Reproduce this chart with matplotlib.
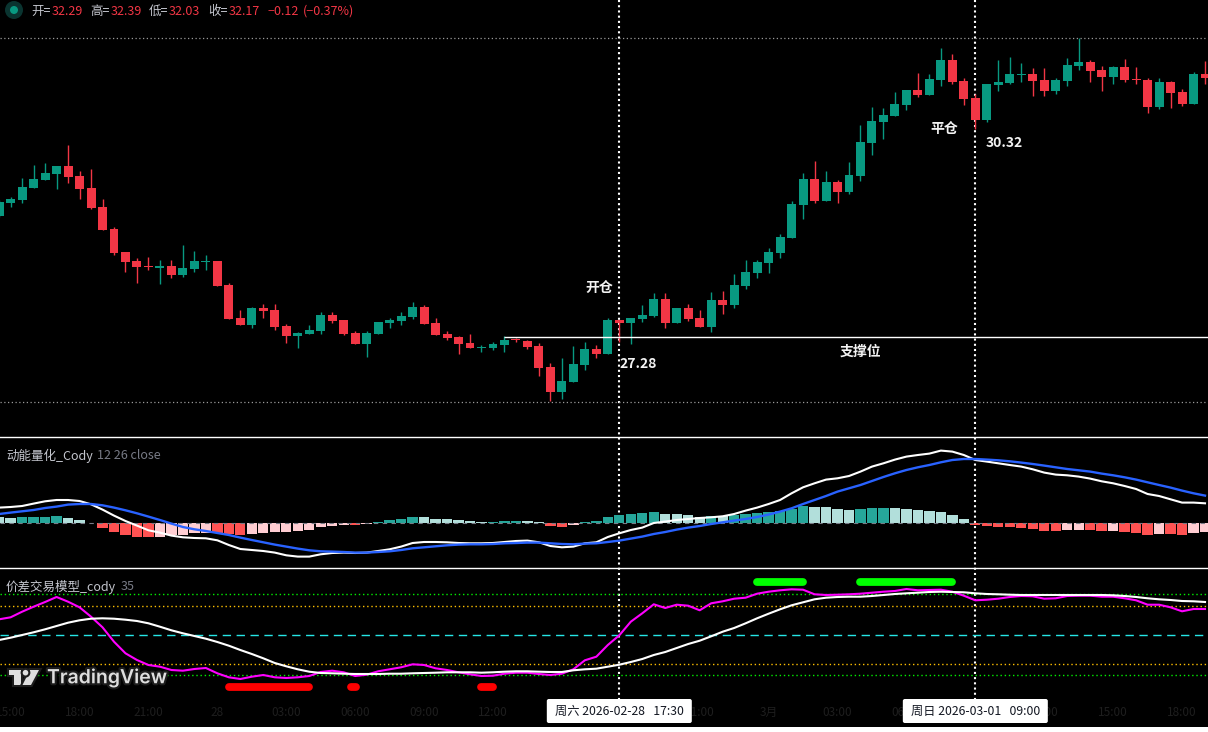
"""Candlestick chart with two indicator panes, dark TradingView look"""

import matplotlib
matplotlib.use("Agg")
import matplotlib.pyplot as plt
import matplotlib.patheffects as pe
from matplotlib.patches import Circle, FancyBboxPatch, Polygon, Rectangle
from matplotlib.transforms import blended_transform_factory
import numpy as np

plt.rcParams['font.family'] = ['Noto Sans CJK SC', 'DejaVu Sans']

# 30 minute candles, left to right
opens = [28.981, 29.163, 29.205, 29.373, 29.485, 29.569, 29.681, 29.541, 29.373, 29.107,
         28.799, 28.477, 28.351, 28.281, 28.253, 28.281, 28.155, 28.239, 28.337, 28.351,
         28.015, 27.553, 27.455, 27.693, 27.665, 27.441, 27.301, 27.329, 27.371, 27.595,
         27.525, 27.343, 27.189, 27.329, 27.483, 27.511, 27.567, 27.707, 27.483, 27.329,
         27.287, 27.203, 27.133, 27.133, 27.175, 27.250, 27.231, 27.161, 26.867, 26.517,
         26.657, 26.895, 27.119, 27.049, 27.525, 27.483, 27.539, 27.581, 27.819, 27.483,
         27.693, 27.553, 27.427, 27.805, 27.735, 27.999, 28.183, 28.323, 28.463, 28.673,
         29.135, 29.499, 29.191, 29.457, 29.317, 29.541, 30.003, 30.297, 30.381, 30.535,
         30.745, 30.675, 30.885, 31.165, 30.871, 30.633, 30.325, 30.815, 30.843, 30.955,
         30.969, 30.885, 30.731, 30.871, 31.081, 31.137, 31.025, 30.927, 31.067, 30.899,
         30.885, 30.507, 30.857, 30.717, 30.549, 30.969]
highs = [29.205, 29.247, 29.513, 29.695, 29.723, 29.681, 29.975, 29.611, 29.639, 29.219,
         28.827, 28.477, 28.393, 28.407, 28.365, 28.365, 28.575, 28.491, 28.435, 28.351,
         28.043, 27.665, 27.707, 27.749, 27.749, 27.469, 27.357, 27.455, 27.637, 27.637,
         27.525, 27.371, 27.371, 27.497, 27.553, 27.637, 27.777, 27.735, 27.553, 27.371,
         27.301, 27.329, 27.175, 27.217, 27.301, 27.273, 27.245, 27.203, 26.923, 26.993,
         27.161, 27.217, 27.175, 27.553, 27.525, 27.553, 27.735, 27.903, 27.903, 27.693,
         27.749, 27.665, 27.917, 27.931, 28.169, 28.365, 28.365, 28.533, 28.729, 29.191,
         29.583, 29.751, 29.611, 29.485, 29.737, 30.255, 30.507, 30.493, 30.717, 30.745,
         30.983, 30.969, 31.333, 31.249, 30.913, 30.689, 30.829, 31.165, 31.207, 31.123,
         31.053, 31.053, 30.913, 31.193, 31.473, 31.165, 31.081, 31.081, 31.179, 31.067,
         30.913, 30.913, 30.871, 30.759, 30.997, 31.151]
lows = [28.967, 29.107, 29.163, 29.373, 29.485, 29.359, 29.443, 29.219, 29.079, 28.785,
        28.435, 28.197, 28.043, 28.225, 28.029, 28.113, 28.127, 28.197, 28.225, 27.999,
        27.539, 27.455, 27.413, 27.553, 27.385, 27.203, 27.133, 27.329, 27.329, 27.483,
        27.315, 27.189, 27.007, 27.329, 27.413, 27.455, 27.539, 27.469, 27.315, 27.245,
        27.049, 27.133, 27.077, 27.105, 27.077, 27.217, 27.119, 26.741, 26.391, 26.419,
        26.657, 26.825, 26.993, 27.049, 27.217, 27.189, 27.497, 27.567, 27.413, 27.483,
        27.511, 27.427, 27.357, 27.609, 27.693, 27.959, 28.113, 28.183, 28.393, 28.673,
        28.939, 29.163, 29.191, 29.163, 29.289, 29.471, 29.835, 30.059, 30.381, 30.465,
        30.647, 30.675, 30.801, 30.829, 30.535, 30.199, 30.297, 30.731, 30.829, 30.857,
        30.661, 30.661, 30.689, 30.801, 31.025, 30.857, 30.731, 30.829, 30.857, 30.829,
        30.423, 30.479, 30.493, 30.521, 30.549, 30.829]
closes = [29.177, 29.219, 29.387, 29.499, 29.583, 29.681, 29.527, 29.359, 29.093, 28.785,
          28.463, 28.337, 28.267, 28.267, 28.281, 28.155, 28.253, 28.351, 28.351, 27.999,
          27.539, 27.455, 27.693, 27.651, 27.427, 27.301, 27.343, 27.385, 27.595, 27.511,
          27.329, 27.189, 27.343, 27.497, 27.525, 27.581, 27.707, 27.469, 27.315, 27.273,
          27.189, 27.133, 27.147, 27.189, 27.245, 27.240, 27.147, 26.853, 26.517, 26.671,
          26.909, 27.119, 27.049, 27.525, 27.483, 27.553, 27.595, 27.819, 27.483, 27.693,
          27.539, 27.427, 27.805, 27.735, 28.015, 28.197, 28.337, 28.477, 28.687, 29.149,
          29.499, 29.191, 29.457, 29.317, 29.555, 30.017, 30.311, 30.395, 30.549, 30.745,
          30.675, 30.899, 31.165, 30.857, 30.619, 30.325, 30.829, 30.857, 30.969, 30.969,
          30.871, 30.731, 30.885, 31.095, 31.137, 31.011, 30.927, 31.067, 30.885, 30.885,
          30.507, 30.857, 30.703, 30.549, 30.969, 30.913]

# momentum pane
macd_fast = [15.7, 16.3, 17.3, 19.7, 22.0, 23.3, 23.3, 22.3, 19.0, 13.7,
             7.7, 2.3, -2.3, -7.0, -9.3, -12.3, -14.0, -14.7, -15.0, -17.0,
             -21.7, -25.7, -26.7, -27.7, -29.3, -32.0, -33.3, -33.3, -31.0, -29.7,
             -29.3, -29.7, -29.3, -27.7, -26.0, -23.3, -19.7, -18.7, -18.7, -19.0,
             -19.7, -20.0, -20.0, -19.7, -18.7, -17.7, -17.3, -19.0, -22.7, -24.0,
             -23.3, -20.0, -19.0, -13.7, -10.0, -6.7, -4.3, 0.3, 1.7, 3.3,
             4.3, 5.3, 6.0, 7.0, 9.3, 12.7, 15.7, 19.3, 23.3, 30.0,
             36.0, 40.0, 43.7, 45.0, 47.3, 51.7, 56.7, 60.0, 63.7, 66.7,
             68.3, 69.7, 72.7, 71.7, 68.3, 63.3, 61.7, 60.0, 58.3, 56.7,
             54.0, 50.7, 48.7, 48.0, 46.7, 44.7, 42.0, 40.0, 37.3, 34.3,
             29.3, 27.3, 24.0, 20.7, 20.7, 20.0]
macd_slow = [9.3, 10.7, 12.0, 13.3, 15.3, 16.7, 18.7, 19.3, 19.3, 18.0,
             15.7, 13.0, 10.0, 6.7, 3.3, -0.3, -3.7, -6.0, -7.7, -9.7,
             -11.7, -14.3, -16.7, -19.0, -21.3, -23.3, -25.3, -27.0, -28.0, -28.3,
             -28.7, -29.3, -29.3, -28.7, -28.0, -26.7, -25.0, -24.0, -23.0, -22.0,
             -21.3, -21.0, -21.0, -20.7, -20.0, -19.7, -19.3, -19.3, -20.0, -20.7,
             -21.0, -20.3, -20.0, -18.7, -17.3, -15.3, -13.3, -10.7, -8.7, -6.3,
             -4.3, -2.7, -0.7, 1.0, 2.7, 4.3, 6.3, 8.7, 11.7, 15.0,
             19.3, 23.3, 27.3, 31.7, 35.0, 38.3, 42.3, 46.3, 50.0, 53.3,
             56.0, 58.3, 61.0, 63.3, 64.3, 64.3, 63.7, 63.0, 62.0, 60.7,
             59.3, 57.7, 56.0, 54.3, 53.0, 51.7, 49.7, 48.0, 46.0, 43.7,
             41.0, 38.3, 35.7, 32.7, 30.0, 27.7]
macd_hist = [6.0, 5.3, 6.3, 6.3, 6.3, 7.3, 5.3, 3.3, 0.5, -4.7,
             -8.7, -11.7, -13.7, -13.7, -13.7, -11.7, -11.7, -9.7, -9.7, -9.7,
             -11.0, -11.7, -10.7, -9.7, -8.7, -8.7, -7.7, -6.7, -3.7, -2.7,
             -1.7, -1.7, -0.7, 1.3, 3.3, 4.3, 6.3, 6.3, 4.3, 4.3,
             3.3, 2.3, 1.3, 1.3, 2.3, 2.3, 2.3, 1.3, -2.7, -3.7,
             -1.7, 1.3, 2.3, 6.3, 8.3, 9.3, 10.3, 11.3, 9.3, 9.3,
             8.3, 6.3, 7.3, 7.3, 8.3, 9.3, 10.3, 11.3, 12.3, 14.3,
             17.3, 16.3, 16.3, 14.3, 13.3, 14.3, 15.3, 15.3, 15.3, 14.3,
             13.3, 12.3, 11.3, 8.3, 4.3, -1.7, -2.7, -3.7, -3.7, -4.7,
             -5.7, -7.7, -7.7, -6.7, -6.7, -6.7, -7.7, -7.7, -8.7, -9.7,
             -11.7, -10.7, -10.7, -11.7, -9.7, -8.7]
# T rising above zero, L falling above zero, R falling below zero, P rising below zero
hist_state = ("LLTTTTLLTR" "RRRRPPPPPR" "RRPPPPPPPP" "PRPTTTTLLL"
              "LLLTTTLLRR" "PTTTTTTTLL" "LLTLTTTTTT" "TLLLLTTTLL"
              "LLLLLRRRRR" "RRRPPRRPRR" "RPRRPP")

# spread model pane
spread_raw = [66.0, 68.0, 73.6, 78.6, 83.3, 88.3, 83.6, 78.0, 68.6, 58.0,
              43.6, 32.0, 25.3, 20.3, 18.6, 15.3, 14.6, 16.3, 17.3, 12.0,
              8.0, 6.3, 8.6, 10.3, 8.0, 7.3, 8.0, 9.3, 13.3, 14.6,
              13.0, 9.3, 10.6, 14.0, 16.0, 18.0, 21.0, 20.3, 17.0, 15.3,
              13.0, 11.0, 9.3, 9.6, 11.6, 12.6, 12.6, 11.3, 10.3, 11.6,
              16.0, 25.0, 28.6, 40.3, 50.0, 63.6, 72.0, 81.0, 77.3, 80.6,
              79.6, 75.0, 82.0, 84.0, 86.6, 87.6, 91.6, 93.6, 95.0, 96.0,
              95.6, 91.0, 90.3, 90.6, 91.0, 91.6, 92.6, 93.6, 94.3, 96.3,
              95.0, 95.3, 95.6, 93.6, 89.6, 85.0, 85.6, 86.6, 88.3, 89.3,
              89.0, 86.6, 87.0, 89.3, 89.6, 89.6, 88.6, 88.6, 87.0, 85.0,
              80.6, 80.6, 78.0, 74.0, 76.3, 76.3]
spread_smooth = [45.3, 47.6, 50.3, 53.0, 56.0, 59.3, 62.6, 65.0, 66.6, 67.0,
                 66.6, 65.6, 64.3, 62.0, 58.6, 55.0, 52.0, 49.3, 46.6, 43.3,
                 39.6, 35.3, 31.3, 27.0, 22.3, 19.0, 16.0, 13.6, 12.3, 12.0,
                 11.6, 11.3, 11.3, 11.3, 11.6, 11.6, 12.0, 12.3, 12.6, 13.0,
                 13.0, 13.0, 12.6, 13.0, 13.6, 14.0, 14.0, 13.6, 13.3, 13.3,
                 15.0, 16.0, 16.6, 18.6, 20.6, 23.3, 26.3, 30.3, 33.3, 37.3,
                 41.3, 44.6, 49.0, 53.6, 57.3, 62.0, 67.0, 71.6, 76.0, 80.0,
                 83.0, 86.0, 87.6, 88.3, 88.6, 88.6, 89.3, 90.3, 91.3, 92.0,
                 92.6, 93.3, 93.6, 93.3, 93.0, 92.0, 91.3, 91.0, 90.6, 90.3,
                 90.3, 90.3, 90.3, 90.3, 90.3, 90.3, 90.3, 90.0, 89.3, 88.3,
                 87.0, 86.0, 85.3, 84.3, 84.0, 83.3]
levels_green = [91, 10]
levels_orange = [79, 21]
level_mid = 50
# signal runs as (first bar, last bar)
sell_runs = [(20, 27), (30.6, 31.1), (42, 43)]
buy_runs = [(66, 70), (75, 83)]
sell_value = -2.0
buy_value = 103.3

# axis text
tick_bars = [1, 7, 13, 19, 25, 31, 37, 43, 49, 55, 61, 67, 73, 79, 85, 91, 97, 103]
tick_labels = ["15:00", "18:00", "21:00", "28", "03:00", "06:00", "09:00", "12:00", "15:00",
               "18:00", "21:00", "3月", "03:00", "06:00", "09:00", "12:00", "15:00", "18:00"]
cross_bars = [54, 85]
cross_labels = ["周六 2026-02-28   17:30", "周日 2026-03-01   09:00"]
guide_prices = [31.47, 26.38]
support_price = 27.29
support_start = 44

W, H = 1208, 732
UP = '#089981'
DOWN = '#F23645'
HIST = {'T': '#26A69A', 'L': '#B2DFDB', 'R': '#FF5252', 'P': '#FFCDD2'}


def add_pane(top, bottom):
    """Axes between two pixel rows, counted from the top of the picture"""
    ax = fig.add_axes([0, 1 - bottom / H, 1, (bottom - top) / H])
    ax.patch.set_visible(False)
    ax.set_xlim(0.074, 105.26)
    ax.set_xticks([])
    ax.set_yticks([])
    for spine in ax.spines.values():
        spine.set_visible(False)
    return ax


def line_text(x, y, text, color, size=9.0, **kw):
    deco.text(x, y, text, color=color, fontsize=size, va='center', ha='left', **kw)


fig = plt.figure(figsize=(W / 100, H / 100), dpi=100, facecolor='white')
fig.add_artist(Rectangle((0, 5 / H), 1, 727 / H, transform=fig.transFigure,
                         fc='black', ec='none', zorder=-5))

bars = np.arange(len(closes))
opens = np.array(opens)
closes = np.array(closes)

# price pane
ax_price = add_pane(0, 437)
ax_price.set_ylim(25.887, 32.005)
colors = [UP if c >= o else DOWN for o, c in zip(opens, closes)]
ax_price.vlines(bars, lows, highs, colors=colors, lw=1.0, zorder=2)
body = np.maximum(np.abs(closes - opens), 0.018)
ax_price.bar(bars, body, bottom=np.minimum(opens, closes), width=0.78, color=colors, zorder=3)
for price in guide_prices:
    ax_price.axhline(price, color='#9a9a9a', lw=0.9, ls=(0, (1, 2)), zorder=1)
ax_price.hlines(support_price, support_start, 106, color='white', lw=1.0, zorder=4)

txt = dict(color='#f2f2f2', fontsize=10, ha='center', va='center', weight='bold')
ax_price.text(52.3, 27.96, "开仓", **txt)
ax_price.text(75.0, 27.08, "支撑位", **txt)
ax_price.text(82.3, 30.2, "平仓", **txt)
ax_price.text(55.6, 26.91, "27.28", **txt)
ax_price.text(87.5, 30.0, "30.32", **txt)

# momentum pane
ax_macd = add_pane(438, 568)
ax_macd.set_ylim(-44.7, 85.3)
ax_macd.bar(bars, macd_hist, width=0.9, color=[HIST[s] for s in hist_state], zorder=2)
ax_macd.axhline(0, color='#787B86', lw=0.8, ls=(0, (4, 4)), zorder=3)
ax_macd.plot(bars, macd_fast, color='white', lw=1.5, zorder=4)
ax_macd.plot(bars, macd_slow, color='#2962FF', lw=1.7, zorder=5)

# spread pane
ax_spread = add_pane(569, 699)
ax_spread.set_ylim(-13.7, 116.3)
for lev in levels_green:
    ax_spread.axhline(lev, color='#00F000', lw=1.0, ls=(0, (1, 2)), zorder=1)
for lev in levels_orange:
    ax_spread.axhline(lev, color='#FFC000', lw=1.0, ls=(0, (1, 2)), zorder=1)
ax_spread.axhline(level_mid, color='#26E6E6', lw=1.0, ls=(0, (6, 4)), zorder=1)
ax_spread.plot(bars, spread_raw, color='#FF00FF', lw=1.5, zorder=3)
ax_spread.plot(bars, spread_smooth, color='white', lw=1.5, zorder=4)
for first, last in sell_runs:
    ax_spread.plot([first, last], [sell_value, sell_value], color='#FF0000', lw=5.6,
                   solid_capstyle='round', zorder=5)
for first, last in buy_runs:
    ax_spread.plot([first, last], [buy_value, buy_value], color='#00FF00', lw=5.6,
                   solid_capstyle='round', zorder=5)
ax_spread.set_xticks(tick_bars)
ax_spread.set_xticklabels(tick_labels, color='#1e1e1e', fontsize=8.5)
ax_spread.tick_params(axis='x', length=0, pad=5)

# crosshair sits under the candles and indicator lines
under = fig.add_axes([0, 0, 1, 1], zorder=-1)
under.set_xlim(0, W)
under.set_ylim(H, 0)
under.axis('off')
cross_tr = blended_transform_factory(ax_price.transData, under.transData)
for bar in cross_bars:
    under.plot([bar, bar], [0, 699], color='white', lw=1.5, ls=(0, (1, 1.5)), transform=cross_tr)

# overlay in picture pixels
deco = fig.add_axes([0, 0, 1, 1], zorder=10)
deco.set_xlim(0, W)
deco.set_ylim(H, 0)
deco.axis('off')

for y in [437.2, 568.2]:
    deco.axhline(y, color='white', lw=1.0)

for bar, label in zip(cross_bars, cross_labels):
    xc = ax_price.transData.transform((bar, 0))[0]
    deco.add_patch(FancyBboxPatch((xc - 72.5, 699), 145, 24, fc='white', ec='none',
                                  boxstyle='round,pad=0,rounding_size=2'))
    deco.text(xc, 711.5, label, color='#131722', fontsize=8.8, ha='center', va='center')

# top status line
deco.add_patch(Circle((14, 10), 9, fc='#0a3430', ec='none'))
deco.add_patch(Circle((14, 10), 4, fc='#089981', ec='none'))
for x, label, x_val, val in [(31, "开=", 52, "32.29"), (90, "高=", 111, "32.39"),
                             (149, "低=", 169, "32.03"), (208, "收=", 229, "32.17")]:
    line_text(x, 11.5, label, '#C4C6CE')
    line_text(x_val, 11.5, val, DOWN)
line_text(267, 11.5, "−0.12", DOWN)
line_text(303, 11.5, "(−0.37%)", DOWN)

# pane titles
line_text(6, 455.5, "动能量化_Cody", '#C4C6CE')
line_text(97, 455.5, "12 26 close", '#787B86')
line_text(6, 586.5, "价差交易模型_cody", '#C4C6CE')
line_text(121, 586.5, "35", '#787B86')

# TradingView mark
halo = [pe.withStroke(linewidth=3, foreground='#1c1c1c')]
logo = '#dedede'
for pts in [[(9, 670), (21, 670), (21, 685), (13.5, 685), (13.5, 675), (9, 675)],
            [(30, 670), (39, 670), (31, 685), (22.5, 685)]]:
    deco.add_patch(Polygon(pts, fc=logo, ec='none', path_effects=halo))
deco.add_patch(Circle((25.5, 672.7), 2.8, fc=logo, ec='none', path_effects=halo))
deco.text(47, 678, "TradingView", color=logo, fontsize=14, family=['Inter', 'DejaVu Sans'],
          weight='semibold', ha='left', va='center', path_effects=halo)

fig.savefig("out.png", dpi=100, facecolor='white')
